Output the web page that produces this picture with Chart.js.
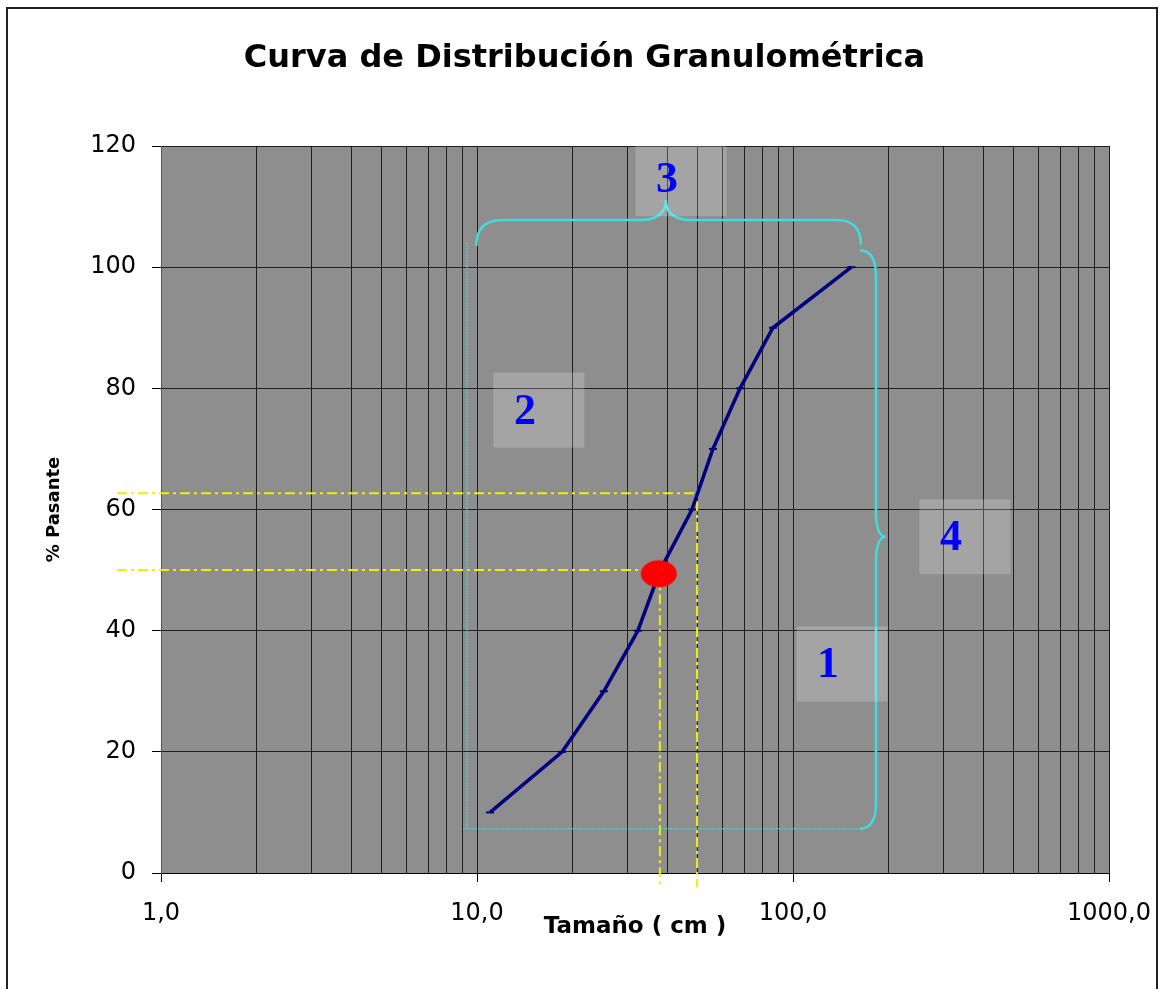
<!DOCTYPE html>
<html>
<head>
<meta charset="utf-8">
<script src="https://cdn.jsdelivr.net/npm/chart.js@4.4.1/dist/chart.umd.min.js"></script>
<style>
  html, body { margin: 0; padding: 0; background: #fff; }
  canvas { display: block; }
</style>
</head>
<body>
<canvas id="chart" width="1169" height="989"></canvas>
<script>
// Curva granulométrica: tamaño (cm) vs % pasante
const sizes = [11.0, 18.6, 25.2, 32.3, 38.0, 47.9, 55.8, 68.0, 86.4, 153];
const passing = [10, 20, 30, 40, 50, 60, 70, 80, 90, 100];

// punto D50 marcado en rojo
const d50Point = [{ x: 37.6, y: 49.4 }];

// líneas de lectura (amarillas): [tamaño, % pasante]
const readLines = [[37.9, 50], [49.7, 62.7]];

const xMajor = [1, 10, 100, 1000];
const xTickLabels = ['1,0', '10,0', '100,0', '1000,0'];
const yTicks = [0, 20, 40, 60, 80, 100, 120];

// etiquetas 1..4 con su posición en unidades del gráfico
const zoneLabels = ['1', '2', '3', '4'];
const zoneX = [143, 15.7, 44.2, 350];
const zoneY = [34.5, 76.4, 114.6, 55.5];

// llaves (brackets) en unidades del gráfico
const braceLeftX = 9.3, braceRightX = 183, braceTopTipX = 39.6, braceTopStartX = 9.95, braceTopEndX = 164;
const braceTopY = 107.8, braceTopTipY = 111.1, braceMidY = 55.5, braceBottomY = 7.3, braceRightTopY = 102.8;

const minorGrid = [];
xMajor.forEach((d, i) => {
  if (i === xMajor.length - 1) { minorGrid.push(d); return; }
  for (let k = 1; k < 10; k++) minorGrid.push(d * k);
});

const ellipse = document.createElement('canvas');
ellipse.width = 38; ellipse.height = 30;
(function () {
  const c = ellipse.getContext('2d');
  c.fillStyle = '#ff0000';
  c.beginPath();
  c.ellipse(19, 15, 18, 13.5, 0, 0, Math.PI * 2);
  c.fill();
})();

const decorations = {
  id: 'decorations',
  beforeDraw(chart) {
    const { ctx, chartArea: a } = chart;
    ctx.save();
    ctx.fillStyle = '#ffffff';
    ctx.fillRect(0, 0, chart.width, chart.height);
    ctx.fillStyle = '#8e8e8e';
    ctx.fillRect(a.left, a.top, a.right - a.left, a.bottom - a.top);
    ctx.restore();
  },
  beforeDatasetsDraw(chart) {
    const { ctx, scales: { x, y } } = chart;
    ctx.save();
    ctx.strokeStyle = '#f0f000';
    ctx.lineWidth = 2;
    ctx.setLineDash([10, 4, 3, 4]);
    const leftEnd = 117, bottomEnd = 887;
    readLines.forEach(([vx, vy]) => {
      const px = x.getPixelForValue(vx), py = y.getPixelForValue(vy);
      ctx.beginPath();
      ctx.moveTo(leftEnd, py);
      ctx.lineTo(px, py);
      ctx.lineTo(px, bottomEnd);
      ctx.stroke();
    });
    ctx.restore();
  },
  afterDatasetsDraw(chart) {
    const { ctx, scales: { x, y } } = chart;
    const X = v => x.getPixelForValue(v), Y = v => y.getPixelForValue(v);
    ctx.save();
    // guías finas punteadas
    ctx.strokeStyle = '#4fd8d8';
    ctx.lineWidth = 1;
    ctx.setLineDash([2, 1]);
    ctx.beginPath();
    ctx.moveTo(X(braceLeftX), Y(braceTopY) + 22);
    ctx.lineTo(X(braceLeftX), Y(braceBottomY));
    ctx.moveTo(X(braceLeftX) - 4, Y(braceBottomY));
    ctx.lineTo(X(braceRightX) - 14, Y(braceBottomY));
    ctx.stroke();
    ctx.setLineDash([]);

    // llave superior
    ctx.strokeStyle = '#40dcdc';
    ctx.lineWidth = 2.5;
    const xa = X(braceTopStartX), xb = X(braceTopEndX), xm = X(braceTopTipX);
    const yt = Y(braceTopY), ytip = Y(braceTopTipY);
    ctx.beginPath();
    ctx.moveTo(xa, yt + 26);
    ctx.quadraticCurveTo(xa, yt, xa + 26, yt);
    ctx.lineTo(xm - 26, yt);
    ctx.quadraticCurveTo(xm, yt, xm, ytip);
    ctx.quadraticCurveTo(xm, yt, xm + 26, yt);
    ctx.lineTo(xb - 24, yt);
    ctx.quadraticCurveTo(xb, yt, xb, yt + 25);
    ctx.stroke();

    // llave derecha
    const xr = X(braceRightX), yr1 = Y(braceRightTopY), ym = Y(braceMidY), yb = Y(braceBottomY);
    ctx.beginPath();
    ctx.moveTo(xr - 16, yr1);
    ctx.quadraticCurveTo(xr, yr1, xr, yr1 + 26);
    ctx.lineTo(xr, ym - 26);
    ctx.quadraticCurveTo(xr, ym, xr + 10, ym);
    ctx.quadraticCurveTo(xr, ym, xr, ym + 26);
    ctx.lineTo(xr, yb - 26);
    ctx.quadraticCurveTo(xr, yb, xr - 16, yb);
    ctx.stroke();

    // cajas con números
    const bw = 91, bh = 75;
    zoneLabels.forEach((t, i) => {
      const cx = X(zoneX[i]), cy = Y(zoneY[i]);
      ctx.fillStyle = 'rgba(255,255,255,0.2)';
      ctx.fillRect(cx - bw / 2, cy - bh / 2, bw, bh);
      ctx.fillStyle = '#0000ff';
      ctx.font = 'bold 44px "Liberation Serif", "DejaVu Serif", serif';
      ctx.textAlign = 'center';
      ctx.textBaseline = 'middle';
      ctx.fillText(t, cx - 14, cy + 2);
    });
    ctx.restore();
  },
  afterDraw(chart) {
    const { ctx } = chart;
    ctx.save();
    ctx.strokeStyle = '#222';
    ctx.lineWidth = 2;
    ctx.beginPath();
    ctx.moveTo(7, chart.height + 2);
    ctx.lineTo(7, 8);
    ctx.lineTo(1157, 8);
    ctx.lineTo(1157, chart.height + 2);
    ctx.stroke();
    ctx.restore();
  }
};

const tickFont = { family: '"DejaVu Sans", sans-serif', size: 24 };

new Chart(document.getElementById('chart').getContext('2d'), {
  type: 'scatter',
  data: {
    datasets: [
      {
        label: 'D50',
        data: d50Point,
        pointStyle: ellipse,
        pointRadius: 15,
        order: 0,
      },
      {
        label: 'Curva',
        data: sizes.map((s, i) => ({ x: s, y: passing[i] })),
        showLine: true,
        borderColor: '#000080',
        borderWidth: 3.5,
        pointStyle: 'line',
        pointRadius: 4,
        pointBorderWidth: 2,
        pointBorderColor: '#000080',
        pointBackgroundColor: '#000080',
        order: 1,
      },
    ],
  },
  options: {
    responsive: false,
    animation: false,
    layout: { padding: 0 },
    plugins: {
      legend: { display: false },
      tooltip: { enabled: false },
      title: {
        display: true,
        text: 'Curva de Distribución Granulométrica',
        color: '#000',
        font: { family: '"DejaVu Sans", sans-serif', size: 32, weight: 'bold' },
        padding: { top: 39, bottom: 68.6 },
      },
    },
    scales: {
      x: {
        type: 'logarithmic',
        min: 1,
        max: 1000,
        afterBuildTicks: scale => { scale.ticks = minorGrid.map(v => ({ value: v, major: xMajor.includes(v) })); },
        afterFit: scale => { scale.height = 116; },
        ticks: {
          autoSkip: false,
          maxRotation: 0,
          color: '#000',
          font: tickFont,
          padding: 17,
          callback: v => {
            const i = xMajor.indexOf(v);
            return i >= 0 ? xTickLabels[i] : '';
          },
        },
        grid: {
          color: '#1e1e1e',
          lineWidth: 1,
          tickLength: 9,
          tickColor: ctx => (ctx.tick && xMajor.includes(ctx.tick.value) ? '#000' : 'rgba(0,0,0,0)'),
        },
        border: { color: '#000', width: 1 },
        title: {
          display: true,
          text: 'Tamaño ( cm )',
          color: '#000',
          font: { family: '"DejaVu Sans", sans-serif', size: 23, weight: 'bold' },
          padding: { top: 0, bottom: 48 },
        },
      },
      y: {
        min: 0,
        max: 120,
        afterBuildTicks: scale => { scale.ticks = yTicks.map(v => ({ value: v })); },
        afterFit: scale => { scale.width = 161; },
        ticks: {
          color: '#000',
          font: tickFont,
          padding: 16,
        },
        grid: {
          color: '#1e1e1e',
          lineWidth: 1,
          tickLength: 9,
          tickColor: '#000',
        },
        border: { color: '#555', width: 1 },
        title: {
          display: true,
          text: '% Pasante',
          color: '#000',
          font: { family: '"DejaVu Sans", sans-serif', size: 18, weight: 'bold' },
          padding: { top: 44, bottom: 0 },
        },
      },
      // eje vacío a la derecha, sólo reserva el margen
      yRight: {
        position: 'right',
        display: true,
        afterFit: scale => { scale.width = 60; },
        ticks: { display: false },
        grid: { display: false, drawTicks: false },
        border: { display: false },
      },
    },
  },
  plugins: [decorations],
});
</script>
</body>
</html>
